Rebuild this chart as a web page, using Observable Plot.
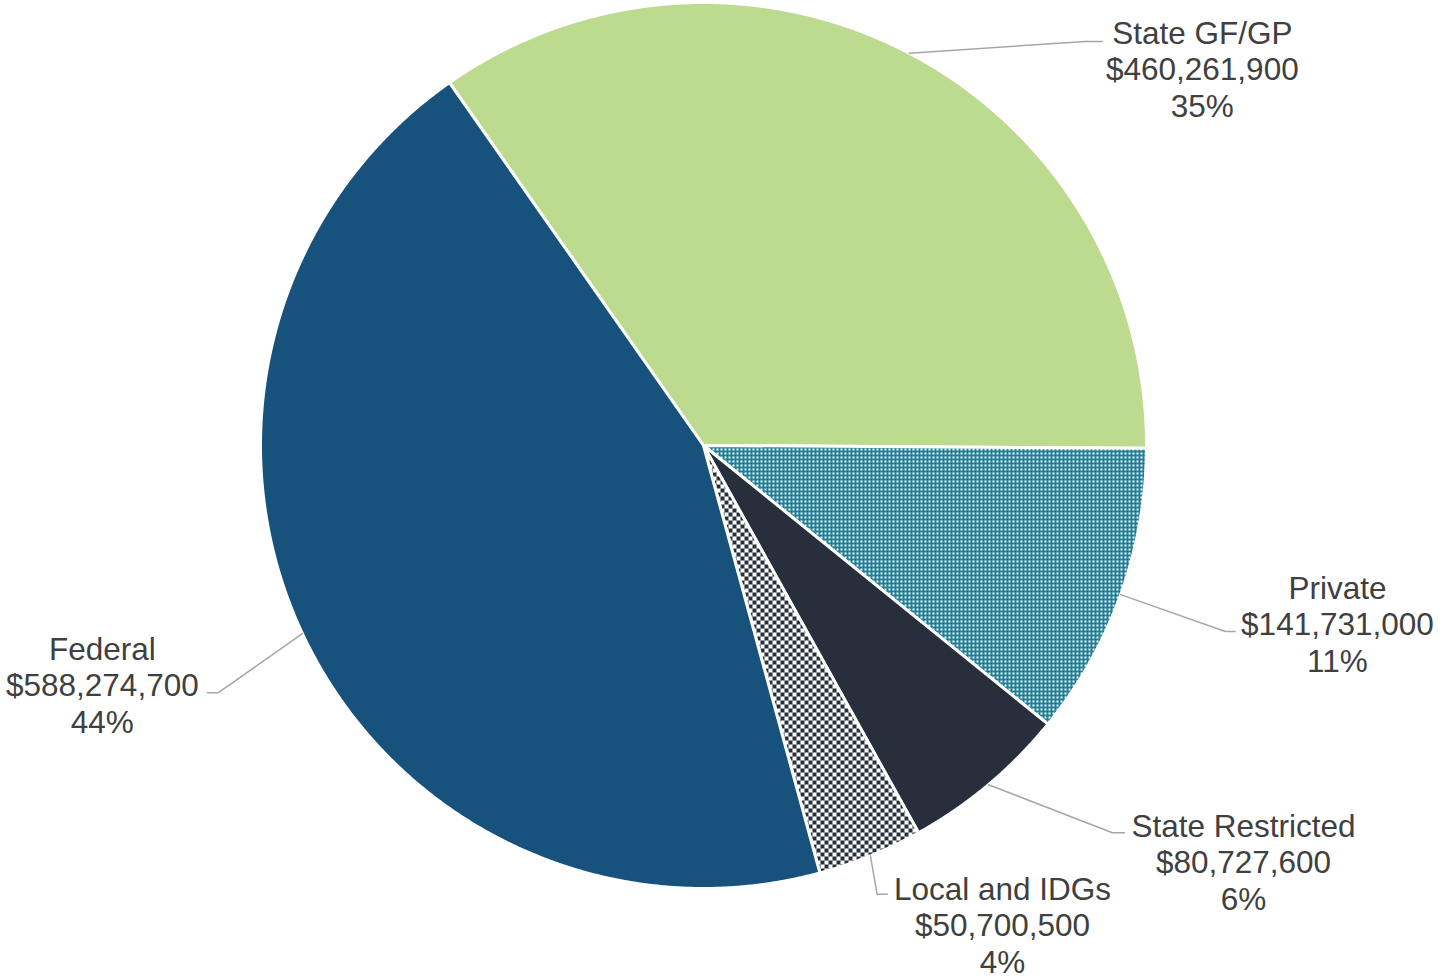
<!DOCTYPE html>
<html><head><meta charset="utf-8">
<script src="https://cdn.jsdelivr.net/npm/d3@7"></script>
<script src="https://cdn.jsdelivr.net/npm/@observablehq/plot@0.6"></script>
<style>body{margin:0;background:#fff} svg{display:block}</style>
</head><body><div id="chart"></div>
<script>
// ---- data ----
const categories = ["State GF/GP", "Private", "State Restricted", "Local and IDGs", "Federal"];
const amounts = [460261900, 141731000, 80727600, 50700500, 588274700];
const amountLabels = ["$460,261,900", "$141,731,000", "$80,727,600", "$50,700,500", "$588,274,700"];
const percentLabels = ["35%", "11%", "6%", "4%", "44%"];

// ---- styles / layout ----
const fills = ["#bcdb8f", "url(#pat-private)", "#272f3d", "url(#pat-local)", "#17527c"];
const firstSliceDeg = -35;
// label anchor (data units, pie radius = 1)
const labelX = [1.126, 1.431, 1.219, 0.675, -1.357];
const labelY = [0.851, -0.402, -0.939, -1.081, -0.540];
// leader elbow & end (data units)
const elbowX = [0.862, 1.178, 0.923, 0.392, -1.095];
const elbowY = [0.912, -0.420, -0.874, -1.013, -0.558];
const endX   = [0.900, 1.200, 0.950, 0.415, -1.120];

const a0 = firstSliceDeg * Math.PI / 180;
const arcs = d3.pie().sort(null).value(d => d).startAngle(a0).endAngle(a0 + 2 * Math.PI)(amounts);

function slicePoints(a, i) {
  const pts = [{x: 0, y: 0, i}];
  const n = Math.max(4, Math.ceil((a.endAngle - a.startAngle) / (Math.PI / 720)));
  for (let k = 0; k <= n; k++) {
    const t = a.startAngle + (a.endAngle - a.startAngle) * k / n;
    pts.push({x: Math.sin(t), y: Math.cos(t), i});
  }
  return pts;
}

const leaders = [];
arcs.forEach((a, i) => {
  const m = (a.startAngle + a.endAngle) / 2;
  leaders.push({i, x: Math.sin(m), y: Math.cos(m)});
  leaders.push({i, x: elbowX[i], y: elbowY[i]});
  leaders.push({i, x: endX[i], y: elbowY[i]});
});

const labels = categories.map((c, i) => ({
  x: labelX[i], y: labelY[i], text: `${c}\n${amountLabels[i]}\n${percentLabels[i]}`
}));

const svg = Plot.plot({
  width: 1442,
  height: 980,
  marginLeft: 260,
  marginRight: 296,
  marginTop: 2,
  marginBottom: 92,
  style: {fontFamily: "'Liberation Sans', Arial, sans-serif", background: "#fff"},
  x: {domain: [-1, 1], axis: null},
  y: {domain: [-1, 1], axis: null},
  marks: [
    ...arcs.map((a, i) => Plot.line(slicePoints(a, i), {
      x: "x", y: "y", fill: fills[i], stroke: "white", strokeWidth: 3,
      strokeLinejoin: "round", curve: "linear-closed"
    })),
    Plot.line(leaders, {x: "x", y: "y", z: "i", stroke: "#a6a6a6", strokeWidth: 1.5}),
    Plot.text(labels, {
      x: "x", y: "y", text: "text", fontSize: 31.5, lineHeight: 1.16,
      fill: "#404040", textAnchor: "middle", lineAnchor: "middle",
      fontFamily: "'Liberation Sans', Arial, sans-serif"
    })
  ]
});

// patterns
const defs = d3.select(svg).insert("defs", ":first-child");
const p1 = defs.append("pattern").attr("id", "pat-private").attr("patternUnits", "userSpaceOnUse")
  .attr("width", 4).attr("height", 4);
p1.append("rect").attr("width", 4).attr("height", 4).attr("fill", "#1f7f98");
p1.append("rect").attr("width", 2).attr("height", 2).attr("fill", "#ffffff");
const p2 = defs.append("pattern").attr("id", "pat-local").attr("patternUnits", "userSpaceOnUse")
  .attr("width", 8).attr("height", 8);
p2.append("rect").attr("width", 8).attr("height", 8).attr("fill", "#ffffff");
p2.append("rect").attr("width", 4).attr("height", 4).attr("fill", "#272f3d");
p2.append("rect").attr("x", 4).attr("y", 4).attr("width", 4).attr("height", 4).attr("fill", "#272f3d");

document.getElementById("chart").appendChild(svg);
</script>
</body></html>
